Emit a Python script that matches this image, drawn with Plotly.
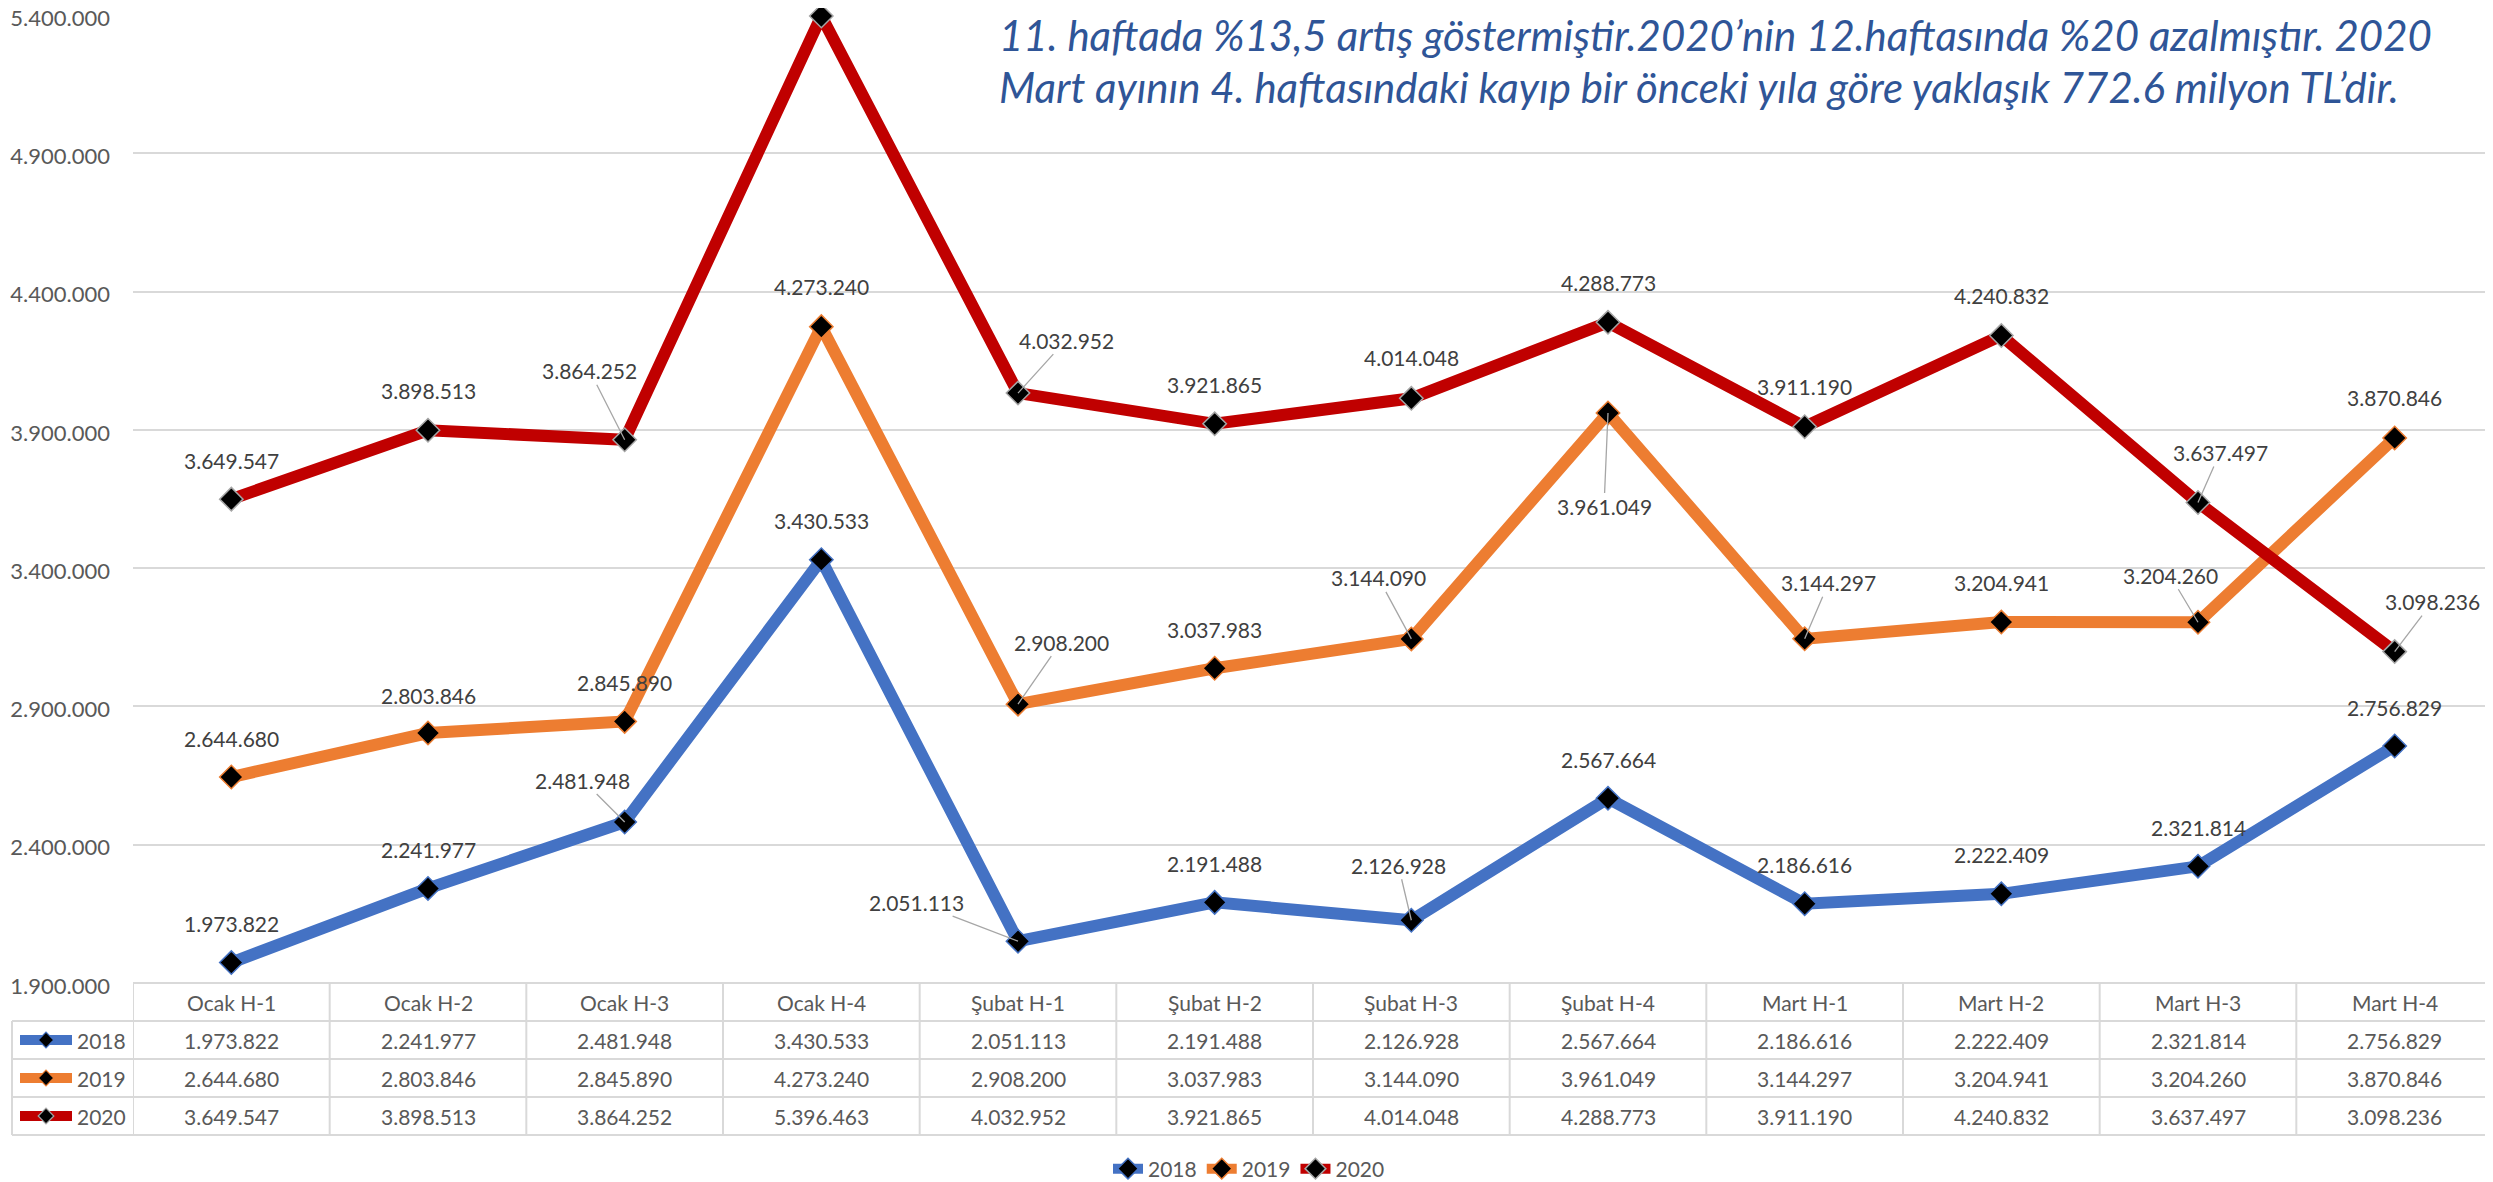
import plotly.graph_objects as go

# ---------------- data ----------------
categories = ["Ocak H-1", "Ocak H-2", "Ocak H-3", "Ocak H-4",
              "Şubat H-1", "Şubat H-2", "Şubat H-3", "Şubat H-4",
              "Mart H-1", "Mart H-2", "Mart H-3", "Mart H-4"]
years = ["2018", "2019", "2020"]
values_2018 = [1973822, 2241977, 2481948, 3430533, 2051113, 2191488,
               2126928, 2567664, 2186616, 2222409, 2321814, 2756829]
values_2019 = [2644680, 2803846, 2845890, 4273240, 2908200, 3037983,
               3144090, 3961049, 3144297, 3204941, 3204260, 3870846]
values_2020 = [3649547, 3898513, 3864252, 5396463, 4032952, 3921865,
               4014048, 4288773, 3911190, 4240832, 3637497, 3098236]
y_ticks = [1900000, 2400000, 2900000, 3400000, 3900000, 4400000, 4900000, 5400000]
note_lines = [
    "11. haftada %13,5 artış göstermiştir.2020’nin 12.haftasında %20 azalmıştır. 2020",
    "Mart ayının 4. haftasındaki kayıp bir önceki yıla göre yaklaşık 772.6 milyon TL’dir.",
]

series_values = [values_2018, values_2019, values_2020]

# ---------------- style ----------------
OFF = 8                      # page body margin
SW, SH = 2493, 1182          # screen size
W, H = SW - OFF, SH - OFF    # figure size


def px(v):
    return v - OFF


FONT = "Lato"
line_colors = ["#4472C4", "#ED7D31", "#C00000"]
marker_edges = ["#4472C4", "#ED7D31", "#A5A5A5"]
GRID = "#D9D9D9"
TXT = "#595959"
LBL = "#404040"

plot_left, plot_top, plot_bottom = px(133), px(15), px(983)
row_edges = [px(v) for v in (983, 1021, 1059, 1097, 1135)]

# label offsets in px (dx, dy, leader) ; None = no label
label_style = [
    [(0, -39, 0), (0, -39, 0), (-42, -42, 1), (0, -39, 0), (-102, -39, 1), (0, -39, 0),
     (-13, -55, 1), (0, -39, 0), (0, -39, 0), (0, -39, 0), (0, -39, 0), (0, -39, 0)],
    [(0, -39, 0), (0, -38, 0), (0, -39, 0), (0, -40, 0), (43, -62, 1), (0, -39, 0),
     (-33, -61, 1), (-4, 94, 1), (24, -56, 1), (0, -40, 0), (-28, -47, 1), (0, -40, 0)],
    [(0, -39, 0), (0, -40, 0), (-35, -69, 1), None, (48, -53, 1), (0, -39, 0),
     (0, -41, 0), (0, -40, 0), (0, -40, 0), (0, -40, 0), (22, -50, 1), (38, -50, 1)],
]


def fmt(v):
    return f"{v:,}".replace(",", ".")


fig = go.Figure()

for yr, vals, lc, me in zip(years, series_values, line_colors, marker_edges):
    fig.add_trace(go.Scatter(
        x=categories, y=vals, name=yr, mode="lines+markers",
        line=dict(color=lc, width=12),
        marker=dict(symbol="diamond", size=18, color="black",
                    line=dict(color=me, width=1.5)),
        cliponaxis=False,
    ))

# legend keys inside the data table (pixel overlay axes)
for i, (lc, me) in enumerate(zip(line_colors, marker_edges)):
    yc = (row_edges[i + 1] + row_edges[i + 2]) / 2
    fig.add_trace(go.Scatter(x=[px(20), px(72)], y=[yc, yc], mode="lines",
                             line=dict(color=lc, width=10),
                             xaxis="x2", yaxis="y2", showlegend=False, hoverinfo="skip"))
    fig.add_trace(go.Scatter(x=[px(46)], y=[yc], mode="markers",
                             marker=dict(symbol="diamond", size=12, color="black",
                                         line=dict(color=me, width=1.2)),
                             xaxis="x2", yaxis="y2", showlegend=False, hoverinfo="skip"))

annotations = []
# data labels
for vals, styles in zip(series_values, label_style):
    for cat, v, st in zip(categories, vals, styles):
        if st is None:
            continue
        dx, dy, leader = st
        a = dict(x=cat, y=v, xref="x", yref="y", text=fmt(v),
                 font=dict(family=FONT, size=21, color=LBL))
        if leader:
            a.update(showarrow=True, ax=dx, ay=dy, arrowhead=0, arrowwidth=1.3,
                     arrowcolor="#A6A6A6", standoff=0)
        else:
            a.update(showarrow=False, xshift=dx, yshift=-dy)
        annotations.append(a)

# table header
hy = (row_edges[0] + row_edges[1]) / 2
for cat in categories:
    annotations.append(dict(x=cat, y=hy, xref="x", yref="y2", text=cat, showarrow=False,
                            font=dict(family=FONT, size=21, color=TXT)))
# table rows
for i, (yr, vals) in enumerate(zip(years, series_values)):
    yc = (row_edges[i + 1] + row_edges[i + 2]) / 2
    annotations.append(dict(x=px(128), y=yc, xref="x2", yref="y2", text=yr, showarrow=False,
                            xanchor="right", font=dict(family=FONT, size=21, color=TXT)))
    for cat, v in zip(categories, vals):
        annotations.append(dict(x=cat, y=yc, xref="x", yref="y2", text=fmt(v),
                                showarrow=False, font=dict(family=FONT, size=21, color=TXT)))

# note text
for line, yc in zip(note_lines, [35, 87]):
    annotations.append(dict(x=px(997), y=px(yc), xref="x2", yref="y2", text=line,
                            showarrow=False, xanchor="left", yanchor="middle",
                            font=dict(family=FONT, size=42, color="#2F5597",
                                      style="italic", weight=400)))

shapes = []
# table horizontal lines
shapes.append(dict(type="line", xref="x2", yref="y2", x0=plot_left, x1=W,
                   y0=row_edges[0], y1=row_edges[0], line=dict(color=GRID, width=2)))
for ye in row_edges[1:]:
    shapes.append(dict(type="line", xref="x2", yref="y2", x0=px(12), x1=W, y0=ye, y1=ye,
                       line=dict(color=GRID, width=2)))
# table vertical lines
shapes.append(dict(type="line", xref="x2", yref="y2", x0=px(12), x1=px(12),
                   y0=row_edges[1], y1=row_edges[-1], line=dict(color=GRID, width=2)))
for i in range(len(categories) + 1):
    shapes.append(dict(type="line", xref="x", yref="y2", x0=i - 0.5, x1=i - 0.5,
                       y0=row_edges[0], y1=row_edges[-1], line=dict(color=GRID, width=2)))

fig.update_layout(
    width=W, height=H, autosize=False,
    margin=dict(l=0, r=0, t=0, b=0, autoexpand=False),
    paper_bgcolor="white", plot_bgcolor="rgba(0,0,0,0)",
    font=dict(family=FONT, color=TXT),
    xaxis=dict(domain=[plot_left / W, 1], type="category", range=[-0.5, 11.5],
               showticklabels=False, showgrid=False, zeroline=False, showline=False,
               ticks="", automargin=False),
    yaxis=dict(domain=[(H - plot_bottom) / H, (H - plot_top) / H],
               range=[y_ticks[0], y_ticks[-1]], tickvals=y_ticks,
               ticktext=[fmt(t) for t in y_ticks], showgrid=True, gridcolor=GRID,
               gridwidth=2, zeroline=False, showline=False, ticks="", automargin=False,
               ticklabeloverflow="allow", ticklabelshift=3,
               ticklabelstandoff=22, tickfont=dict(family=FONT, size=22, color=TXT)),
    xaxis2=dict(domain=[0, 1], range=[0, W], visible=False, anchor="y2", automargin=False),
    yaxis2=dict(domain=[0, 1], range=[H, 0], visible=False, anchor="x2", automargin=False),
    legend=dict(orientation="h", x=px(1249) / W, xanchor="center",
                y=(H - px(1169)) / H, yanchor="middle",
                font=dict(family=FONT, size=21, color=TXT),
                bgcolor="rgba(0,0,0,0)"),
    annotations=annotations, shapes=shapes,
    showlegend=True,
)

fig.write_html("out.html")
